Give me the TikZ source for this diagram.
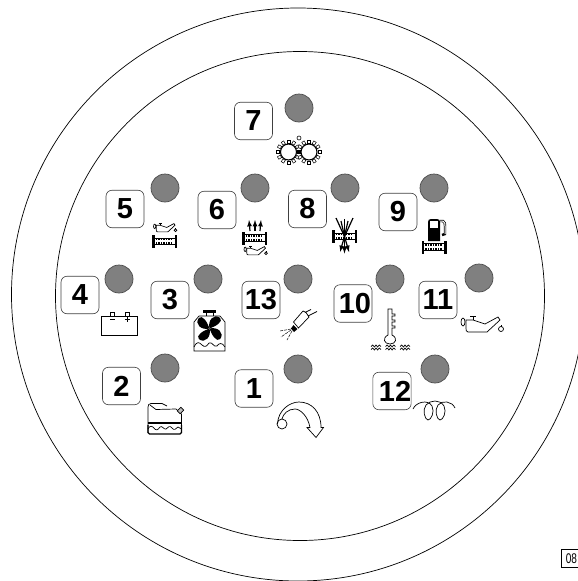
\documentclass[tikz,border=0pt]{standalone}
\usepackage{fontspec}
\setmainfont{Liberation Sans}
\tikzset{
  numbox/.style={draw=black!75,line width=0.6pt,rounded corners=6pt,minimum width=38pt,minimum height=37.5pt,inner sep=0pt,font=\fontsize{29}{29}\selectfont\bfseries},
  ledlamp/.style={circle,draw=black!70,line width=0.7pt,fill=black!50,minimum size=28pt,inner sep=0pt},
  codebox/.style={draw,line width=0.7pt,anchor=north west,minimum width=40pt,minimum height=18pt,inner sep=0pt,text width=35pt,font=\fontsize{14}{14}\selectfont},
  wheelbar/.pic={
    \fill (-12.5,-6.5) rectangle (-10,6.5);
    \fill (10,-6.5) rectangle (12.5,6.5);
    \draw[line width=0.5pt] (-10,-3.5) -- (10,-3.5) (-10,2.8) -- (10,2.8);
    \foreach \x in {-8,-5.5,...,8.5} {
        \fill (\x-0.9,-3.2) rectangle (\x+0.9,-1.2);
        \fill (\x-0.9,0.8) rectangle (\x+0.9,2.8);
      }
  },
  oilcan/.pic={
    \draw[line width=0.7pt] (-14,-5) -- (-7,-5) -- (5,-1) -- (18,-8) -- (20,-5) -- (7,7) -- (-12,7) .. controls (-14,7) and (-14,5) .. (-14,3) -- cycle;
    \draw[line width=0.7pt] (-17,-3) ellipse (2 and 4);
    \draw[line width=0.7pt] (-7,-5) -- (-7,-9) (-10,-9) -- (-4,-9);
    \draw[line width=0.7pt] (21,4) circle (2.5);
    \draw[line width=0.7pt] (21,1.5) -- (21,0);
  },
  gearwheel/.pic={
    \foreach \a in {0,30,...,330} {
        \draw[line width=0.5pt,fill=white,rotate=\a] (8.8,-1.4) rectangle (12,1.4);
      }
    \draw[line width=1.1pt] (0,0) circle (8);
  },
  wavelet/.pic={
    \draw[line width=0.7pt] (-5,-1) -- (-3.3,-2.5) -- (-1.6,-0.5) -- (0,-2.5) -- (1.6,-0.5) -- (3.3,-2.5) -- (5,-1);
    \draw[line width=0.7pt] (-5,2) -- (-3.3,0.5) -- (-1.6,2.5) -- (0,0.5) -- (1.6,2.5) -- (3.3,0.5) -- (5,2);
  }
}
\begin{document}
\begin{tikzpicture}[x=1pt,y=-1pt]
        \useasboundingbox (0,0) rectangle (578,581);
        \clip (0,0) rectangle (578,581);
        \draw[line width=0.7pt] (298,294.5) circle (286.5);
        \draw[line width=0.7pt] (300,296) circle (244.5);
        \foreach \x/\y/\lab in {254/388.5/1,121.5/386/2,170/300/3,80/295/4,125/209/5,217/210/6,253.5/121/7,307.5/209/8,398/212/9,438/300/11,261/300/13} {
            \node[numbox] (box\lab) at (\x,\y) {\lab};
          }
        \node[numbox] (box10) at (353,303.5) {\hspace*{4pt}10};
        \node[numbox] (box12) at (392,391) {\hspace*{6pt}12};
        \foreach \x/\y/\lab in {298/369/1,165/368/2,208/279/3,119/279/4,165/188/5,255/188/6,299/108/7,345/188/8,434/188/9,390/279/10,479/278/11,435/369/12,298/279/13} {
            \node[ledlamp] (led\lab) at (\x,\y) {};
          }
        \pic at (288.5,152) {gearwheel};
        \pic at (309,152) {gearwheel};
        \fill (298.7,152) circle (2);
        \draw[line width=0.6pt] (299,138) circle (2);
        \pic at (164.5,241.5) {wheelbar};
        \pic[scale=0.55] at (164,228) {oilcan};
        \pic at (254.5,238) {wheelbar};
        \pic[scale=0.55] at (254.5,251) {oilcan};
        \foreach \x/\t in {250/249,255/255,260/261} {
            \draw[line width=1.2pt,-latex] (\x,231) -- (\t,220);
          }
        \pic at (344.5,236.5) {wheelbar};
        \foreach \x/\y in {336/218,341/221,344.5/219,348/221,353/218} {
            \draw[line width=1.2pt] (344.5,236.5) -- (\x,\y);
          }
        \foreach \x/\y in {340/252,344.5/253.5,349/252} {
            \draw[line width=1.2pt,-latex] (344.5,236.5) -- (\x,\y);
          }
        \pic at (434,247) {wheelbar};
        \fill (428,241) -- (428,222) .. controls (428,220) and (429,219) .. (431,219) -- (437,219) .. controls (439,219) and (440,220) .. (440,222) -- (440,241) -- cycle;
        \fill[white] (430,221) rectangle (438,228);
        \draw[line width=2.4pt] (440,221) -- (443,221) .. controls (445,222) and (445,224) .. (445,226) -- (445,234) -- (442,235);
        \draw[white,line width=1pt] (440,221) -- (443,221) .. controls (445,222) and (445,224) .. (445,226) -- (445,234);
        \draw[line width=0.7pt] (101,316) rectangle (137,335);
        \draw[line width=0.6pt] (110.5,316) -- (110.5,312) -- (114,312) -- (114,316);
        \draw[line width=0.6pt] (125.5,316) -- (125.5,312) -- (129,312) -- (129,316);
        \draw[line width=0.6pt] (110,319) -- (115,319) (124.5,319) -- (129.5,319) (127,316.5) -- (127,321.5);
        \draw[line width=0.7pt] (194,351) -- (194,322) -- (199,316) -- (220,316) -- (225,322) -- (225,351) -- cycle;
        \fill (203,310) rectangle (216,313);
        \draw[line width=0.7pt] (206,313) -- (206,316) (213,313) -- (213,316);
        \foreach \a in {45,135,225,315} {
            \fill[shift={(209.5,328.5)},rotate=\a] (0,0) .. controls (4,-7) and (14,-8) .. (15,0) .. controls (15,5) and (6,3) .. (0,0);
          }
        \draw[line width=0.7pt] (194,347) .. controls (197,341) and (199,342) .. (202,345) .. controls (205,348) and (207,346) .. (209,343) .. controls (212,341) and (214,348) .. (217,346) .. controls (219,343) and (222,342) .. (225,347);
        \draw[line width=0.7pt] (293.5,322) -- (298.5,328) -- (309,317) -- (306,312.5) -- (303,311) -- cycle;
        \fill (291,328.5) -- (293.5,325) -- (297.5,329) -- (294,332) -- cycle;
        \draw[line width=0.7pt] (305,312.5) -- (311,309.5) (308,316) -- (317,311.5);
        \draw[line width=0.5pt,dashed,dash pattern=on 3pt off 1pt] (291,329) -- (280,331);
        \draw[line width=0.5pt,dashed,dash pattern=on 3pt off 1pt] (291,330) -- (281,337);
        \draw[line width=0.5pt,dashed,dash pattern=on 3pt off 1pt] (292,331) -- (287,340);
        \draw[line width=0.7pt] (388,309) -- (392,309) -- (392,314) -- (395,314) -- (395,316) -- (392,316) -- (392,320) -- (395,320) -- (395,322) -- (392,322) -- (392,326) -- (395,326) -- (395,328) -- (392,328) -- (392,335) .. controls (398,338) and (396,344) .. (390,344) .. controls (384,344) and (382,338) .. (388,335) -- cycle;
        \foreach \x in {376,390.5,405} {
            \pic at (\x,347.5) {wavelet};
          }
        \pic at (480,325) {oilcan};
        \draw[line width=0.7pt] (148,433) -- (148,407) .. controls (148,405) and (149,403.5) .. (151,403.5) -- (162,403.5) -- (167,406);
        \draw[line width=0.7pt] (150,405) -- (156,409.5) -- (176,409) (176,409) -- (181.5,414) -- (181.5,433);
        \draw[line width=0.7pt,fill=black!25,rotate around={45:(180.5,410.5)}] (178,408.5) rectangle (183,412.5);
        \draw[line width=1.3pt] (148,423) -- (181.5,423);
        \draw[line width=0.7pt] (148,429) .. controls (150,425) and (152,426) .. (154,428) .. controls (156,431) and (158,430) .. (160,427) .. controls (162,425) and (164,430) .. (166,429) .. controls (168,427) and (170,425) .. (172,428) .. controls (174,431) and (176,429) .. (178,427) -- (181.5,429);
        \draw[line width=1.2pt,rounded corners=1.5pt] (148,425) -- (148,434) -- (181.5,434) -- (181.5,425);
        \draw[line width=0.7pt] (282,424) circle (5);
        \draw[line width=0.7pt] (277.5,424) .. controls (278,410) and (290,402) .. (299,402) .. controls (312,402) and (321,412) .. (321,427.5) -- (323.5,427.5) -- (316,437.5) -- (307,427.5) -- (310,427.5) .. controls (308,416) and (300,409) .. (295,409) .. controls (288,409) and (283,414) .. (282,419);
        \draw[line width=0.7pt] (413,409) .. controls (416,402) and (428,399) .. (432,406) .. controls (435,412) and (431,420) .. (428,420) .. controls (425,420) and (422,410) .. (426,405) .. controls (430,400) and (440,399) .. (444,406) .. controls (447,412) and (443,420) .. (440,420) .. controls (437,420) and (434,410) .. (438,405) .. controls (442,400) and (452,401) .. (455,408);
        \node[codebox] (code) at (561,549) {\hspace*{2pt}\scalebox{0.72}[1]{08}};
      \end{tikzpicture}
\end{document}
